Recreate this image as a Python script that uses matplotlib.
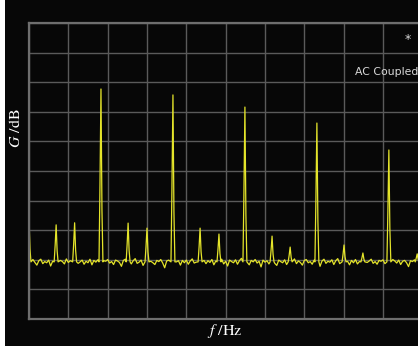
import numpy as np
import matplotlib
matplotlib.use('Agg')
import matplotlib.pyplot as plt
from matplotlib.patches import Rectangle

# spectrum data (Hz, dB)
peak_freqs = [0, 69, 116, 183, 252, 300, 366, 435, 483, 549, 618, 664, 732, 801, 849, 915, 987]
peak_levels = [-66.2, -68.2, -67.5, -22.3, -67.6, -69.3, -24.3, -69.3, -71.3, -28.4,
               -72.0, -75.7, -33.8, -75.0, -77.7, -42.9, -78.0]

floor_level = -80.7
noise_step = 5.0  # Hz
noise_offsets = [
    0.3, -0.5, 0.8, -0.2, -1.1, 0.4, 0.9, -0.6, 0.1, -0.3, 0.6, -1.4, 0.2, 0.7, -0.4, -0.9, 0.5, 0.1, -0.7, 1.0,
    -0.2, 0.4, -1.6, 0.3, 0.8, -0.5, 0.0, 0.6, -0.8, 0.2, -0.3, 0.9, -1.0, 0.5, -0.1, 0.7, -0.6, -1.3, 0.4, 0.2,
    0.8, -0.4, 0.1, -0.9, 0.6, 0.3, -0.2, -1.5, 0.5, 0.9, -0.3, 0.2, -0.7, 0.4, 1.1, -0.5, -0.1, 0.6, -1.2, 0.3,
    -0.6, 0.7, 0.2, -0.3, -0.9, 0.5, 0.1, 0.8, -0.4, -2.0, 0.3, 0.6, -0.2, 0.9, -0.7, 0.0, 0.4, -1.1, 0.5, -0.3,
    0.6, -0.8, 0.3, 1.0, -0.4, -0.1, 0.7, -1.3, 0.2, 0.5, -0.6, 0.4, -0.2, 0.8, -1.0, 0.3, 0.1, -0.5, 0.9, -0.7,
    0.2, -1.4, 0.6, 0.1, -0.3, 0.7, -0.8, 0.4, 1.2, -0.2, -0.6, 0.3, -1.0, 0.5, 0.0, 0.8, -0.4, 0.2, -1.7, 0.6,
    -0.1, 0.4, -0.7, 0.9, 0.3, -0.5, -1.2, 0.6, 0.1, -0.3, 0.7, -0.9, 0.2, 0.5, -0.4, 1.0, -0.6, 0.3, -0.2, -1.1,
    0.5, 0.8, -0.3, 0.1, -0.8, 0.6, -0.2, 0.4, -1.5, 0.3, 0.9, -0.5, 0.2, -0.1, 0.7, -0.9, 0.4, 1.1, -0.6, 0.0,
    -0.4, 0.6, 0.2, -1.0, 0.5, -0.3, 0.8, -0.7, 0.1, 0.4, -1.3, 0.6, -0.2, 0.3, 0.9, -0.5, 0.1, -0.8, 0.5, 0.2,
    0.7, -0.6, -0.1, 0.4, -1.1, 0.8, 0.3, -0.4, 0.6, -0.9, 0.2, 0.5, -0.3, -1.6, 0.4, 0.1, 0.7, -0.5, 0.3, -0.2,
    0.4,
]

# shape of one analyzer line (offset in Hz, fraction of height above floor)
shape_df = [-5.0, -2.5, 0.0, 2.5, 5.0]
shape_frac = [0.0, 0.45, 1.0, 0.3, 0.0]

# build the trace
f_noise = np.arange(len(noise_offsets)) * noise_step
g_noise = floor_level + np.array(noise_offsets)
keep = np.ones(len(f_noise), dtype=bool)
for pf in peak_freqs:
    keep &= np.abs(f_noise - pf) > 6.0
F = list(f_noise[keep])
G = list(g_noise[keep])
for pf, pl in zip(peak_freqs, peak_levels):
    for df, fr in zip(shape_df, shape_frac):
        F.append(pf + df)
        G.append(floor_level + fr * (pl - floor_level))
order = np.argsort(F)
F = np.array(F)[order]
G = np.array(G)[order]

W, H = 418, 346
fig = plt.figure(figsize=(W / 100, H / 100), dpi=100)
fig.patch.set_facecolor('#070707')
fig.patches.append(Rectangle((0, 0), 5 / W, 1, transform=fig.transFigure,
                             facecolor='white', edgecolor='none'))

ax = fig.add_axes([29 / W, (H - 319) / H, 393.3 / W, 296 / H])
ax.set_facecolor('#070707')
ax.plot(F, G, color='#e4e42a', lw=0.9)
ax.set_xlim(0, 1000)
ax.set_ylim(-100, 0)
ax.set_xticks(np.arange(0, 1001, 100))
ax.set_yticks(np.arange(-100, 1, 10))
ax.tick_params(length=0, labelbottom=False, labelleft=False)
ax.grid(True, color='#5a5a5a', lw=1.0)
for s in ax.spines.values():
    s.set_color('#6e6e6e')
    s.set_linewidth(1.6)

fig.text(408 / W, (H - 40) / H, '*', color='#d8d8d8',
         fontsize=9, ha='center', va='center')
fig.text(355 / W, (H - 72) / H, 'AC Coupled', color='#d8d8d8', fontsize=7.8,
         ha='left', va='center', family='DejaVu Sans')

plt.rcParams['mathtext.fontset'] = 'stix'
fig.text(225 / W, (H - 331) / H, r'$f$ /Hz', color='white', fontsize=11.5,
         ha='center', va='center', family='STIXGeneral')
fig.text(16 / W, (H - 128) / H, r'$G$ /dB', color='white', fontsize=11.5,
         ha='center', va='center', rotation=90, family='STIXGeneral')

fig.savefig('out.png', dpi=100, facecolor=fig.get_facecolor())
